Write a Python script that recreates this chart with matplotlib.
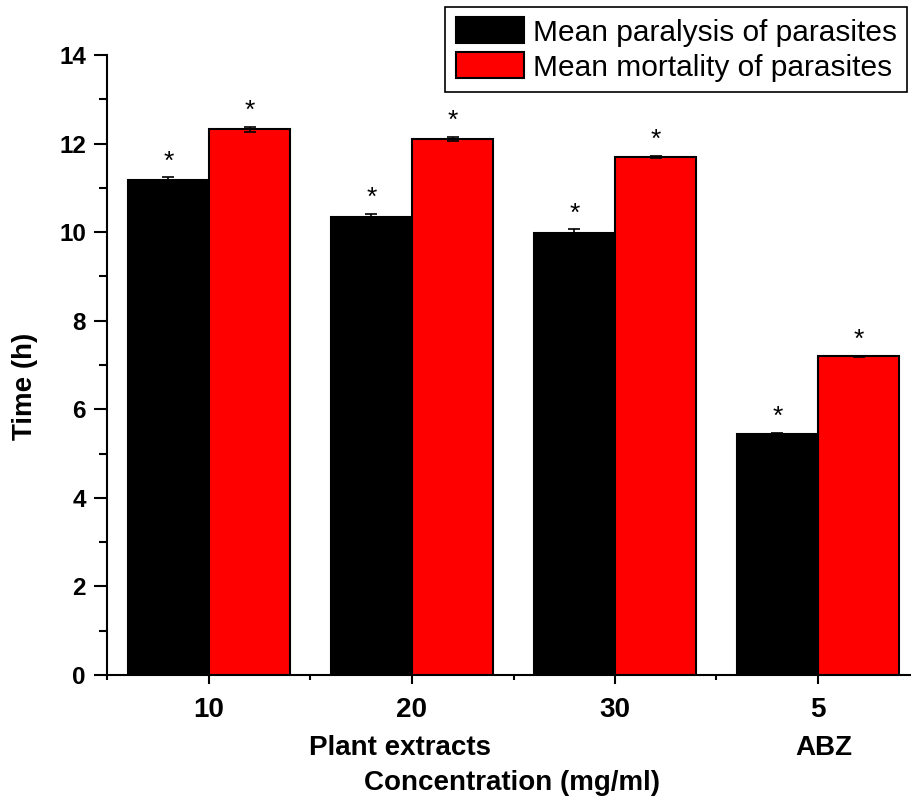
import matplotlib
matplotlib.use("Agg")
import matplotlib.pyplot as plt
import numpy as np
from matplotlib.ticker import MultipleLocator, FixedLocator
import matplotlib.transforms as mtransforms

plt.rcParams['font.family'] = ['Liberation Sans', 'DejaVu Sans']

# Data
categories = ['10', '20', '30', '5']
paralysis = [11.18, 10.35, 9.99, 5.45]
paralysis_err = [0.06, 0.06, 0.07, 0.02]
mortality = [12.32, 12.10, 11.70, 7.20]
mortality_err = [0.06, 0.05, 0.03, 0.01]
group_labels = ['Plant extracts', 'ABZ']
group_label_x = [1.94, 4.03]
series_names = ['Mean paralysis of parasites', 'Mean mortality of parasites']

W, H = 912, 800
fig = plt.figure(figsize=(W / 100, H / 100), dpi=100)
ax = fig.add_axes([107.5 / W, 125 / H, 812 / W, 620 / H])

x = np.arange(1, len(categories) + 1)
bw = 0.4
b1 = ax.bar(x - bw / 2, paralysis, bw, color='black', edgecolor='black', linewidth=1.5,
            label=series_names[0], zorder=2)
b2 = ax.bar(x + bw / 2, mortality, bw, color='#ff0000', edgecolor='black', linewidth=1.5,
            label=series_names[1], zorder=2)
ax.errorbar(x - bw / 2, paralysis, yerr=paralysis_err, fmt='none', ecolor='black',
            elinewidth=1.2, capsize=4.5, capthick=1.2, zorder=3)
ax.errorbar(x + bw / 2, mortality, yerr=mortality_err, fmt='none', ecolor='black',
            elinewidth=1.2, capsize=4.5, capthick=1.2, zorder=3)

# asterisks
for xi, v, e in zip(x - bw / 2, paralysis, paralysis_err):
    ax.text(xi, v + e + 0.2, '*', ha='center', va='baseline', fontsize=19, color='black')
for xi, v, e in zip(x + bw / 2, mortality, mortality_err):
    ax.text(xi, v + e + 0.2, '*', ha='center', va='baseline', fontsize=19, color='black')

ax.set_xlim(0.5, 4.5)
ax.set_ylim(0, 14)

for s in ['top', 'right']:
    ax.spines[s].set_visible(False)
for s in ['left', 'bottom']:
    ax.spines[s].set_linewidth(1.5)

ax.set_xticks(x)
ax.set_xticklabels(categories, fontsize=20, fontweight='bold')
ax.xaxis.set_minor_locator(FixedLocator([0.5, 1.5, 2.5, 3.5]))
ax.yaxis.set_major_locator(MultipleLocator(2))
ax.yaxis.set_minor_locator(MultipleLocator(1))
for lab in ax.get_yticklabels():
    lab.set_fontsize(17.5)
    lab.set_fontweight('bold')
ax.tick_params(axis='y', which='major', direction='out', length=9.5, width=1.5, pad=6)
ax.tick_params(axis='y', which='minor', direction='out', length=5.5, width=1.5)
ax.tick_params(axis='x', which='major', direction='out', length=6.5, width=1.5, pad=9)
ax.tick_params(axis='x', which='minor', direction='out', length=3.5, width=1.5)

# group labels
trans = mtransforms.blended_transform_factory(ax.transData, ax.transAxes)
for gx, gl in zip(group_label_x, group_labels):
    ax.text(gx, -0.129, gl, transform=trans, ha='center', va='baseline',
            fontsize=20, fontweight='bold')

ax.set_xlabel('Concentration (mg/ml)', fontsize=20, fontweight='bold')
ax.xaxis.label.set_va('baseline')
ax.xaxis.set_label_coords(0.498, -0.1855)
ax.set_ylabel('Time (h)', fontsize=20, fontweight='bold')
ax.yaxis.label.set_va('center')
ax.yaxis.set_label_coords(-0.1016, 0.466)

leg = ax.legend(handles=[b1, b2], loc='upper right', bbox_to_anchor=(907 / W, 1 - 7 / H),
                bbox_transform=fig.transFigure, fontsize=21.5, frameon=True, fancybox=False,
                edgecolor='black', framealpha=1, borderaxespad=0, borderpad=0.35,
                handlelength=2.27, handleheight=0.94, handletextpad=0.3, labelspacing=0.2)
leg.get_frame().set_linewidth(1.2)

fig.savefig('out.png', dpi=100)
